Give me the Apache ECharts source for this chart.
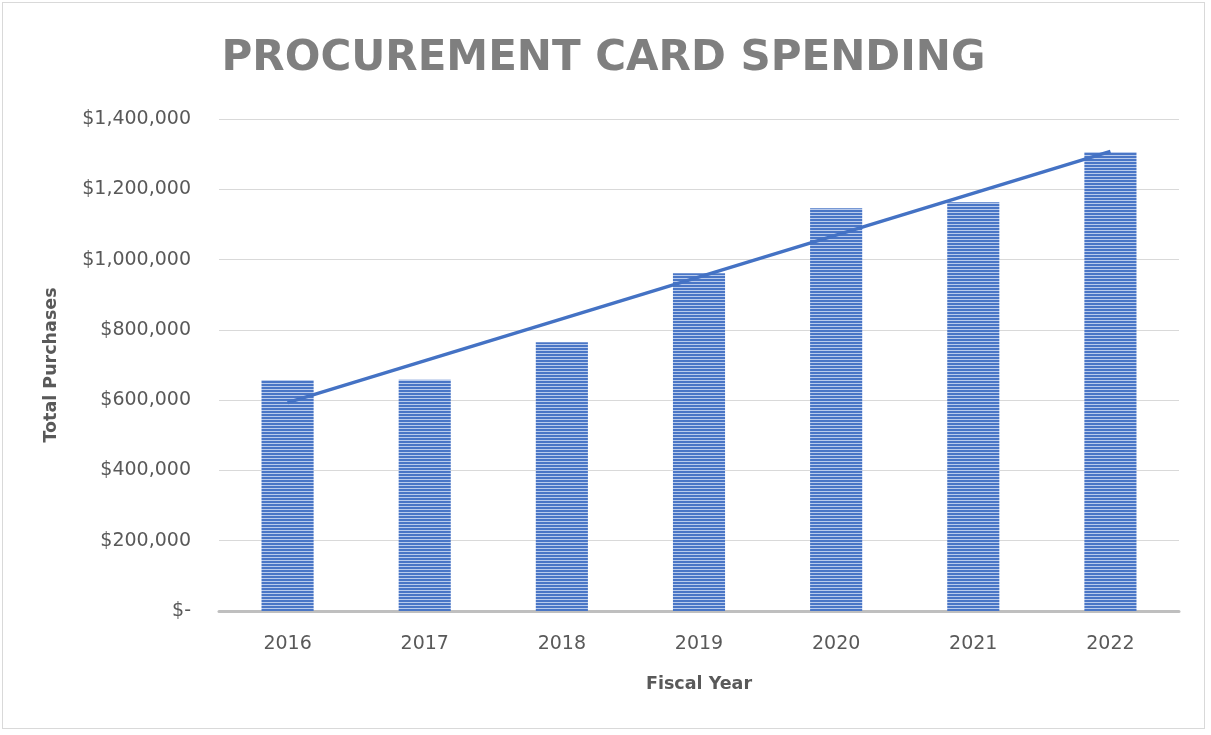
<!DOCTYPE html>
<html>
<head>
<meta charset="utf-8">
<script src="https://cdn.jsdelivr.net/npm/echarts@6/dist/echarts.min.js"></script>
<style>
  html, body { margin: 0; padding: 0; background: #fff; }
  .box {
    position: absolute;
    left: 2px; top: 2px;
    width: 1203px; height: 727px;
    border: 1px solid #d9d9d9;
    box-sizing: border-box;
  }
</style>
</head>
<body>
<div class="box" id="chart"></div>
<script>
const years = ['2016', '2017', '2018', '2019', '2020', '2021', '2022']
const purchases = [657000, 658000, 765000, 961000, 1146000, 1163000, 1306000]
// linear trendline end points, nulls in between
const trend = [593000, null, null, null, null, null, 1308000]
const yTicks = [0, 200000, 400000, 600000, 800000, 1000000, 1200000, 1400000]

// horizontal stripe fill for the bars
const stripe = document.createElement('canvas')
stripe.width = 4
stripe.height = 3
const ctx = stripe.getContext('2d')
ctx.fillStyle = '#4a76c6'
ctx.fillRect(0, 0, 4, 3)
ctx.fillStyle = '#b9cbec'
ctx.fillRect(0, 2, 4, 1)

const fmt = v => v === 0 ? '$-' : '$' + v.toLocaleString('en-US')

const myChart = echarts.init(document.getElementById('chart'), null, {
  devicePixelRatio: window.devicePixelRatio
})
const option = {
  animation: false,
  title: {
    text: 'PROCUREMENT CARD SPENDING',
    left: 'center',
    top: 30,
    textStyle: {
      color: '#7f7f7f',
      fontFamily: 'DejaVu Sans',
      fontWeight: 'bold',
      fontSize: 42
    }
  },
  grid: {
    left: 216,
    right: 25,
    top: 116,
    bottom: 117
  },
  xAxis: {
    type: 'category',
    data: years,
    name: 'Fiscal Year',
    nameLocation: 'middle',
    nameGap: 64,
    nameTextStyle: {
      color: '#595959',
      fontFamily: 'DejaVu Sans',
      fontWeight: 'bold',
      fontSize: 17.5
    },
    axisLine: { lineStyle: { color: '#bfbfbf', width: 3 } },
    axisTick: { show: false },
    axisLabel: {
      margin: 24,
      color: '#595959',
      fontFamily: 'DejaVu Sans',
      fontSize: 19
    }
  },
  yAxis: {
    type: 'value',
    min: 0,
    max: yTicks[yTicks.length - 1],
    interval: yTicks[1] - yTicks[0],
    name: 'Total Purchases',
    nameLocation: 'middle',
    nameGap: 159,
    nameRotate: 90,
    nameTextStyle: {
      color: '#595959',
      fontFamily: 'DejaVu Sans',
      fontWeight: 'bold',
      fontSize: 17.5
    },
    axisLine: { show: false },
    axisTick: { show: false },
    splitLine: { lineStyle: { color: '#d9d9d9', width: 1 } },
    axisLabel: {
      margin: 28,
      color: '#595959',
      fontFamily: 'DejaVu Sans',
      fontSize: 19,
      formatter: fmt
    }
  },
  series: [
    {
      type: 'bar',
      data: purchases,
      barWidth: '38%',
      itemStyle: {
        color: { image: stripe, repeat: 'repeat' }
      }
    },
    {
      type: 'line',
      data: trend,
      connectNulls: true,
      symbol: 'none',
      lineStyle: { color: '#4472c4', width: 3.5 },
      z: 5
    }
  ]
}
myChart.setOption(option)
</script>
</body>
</html>
